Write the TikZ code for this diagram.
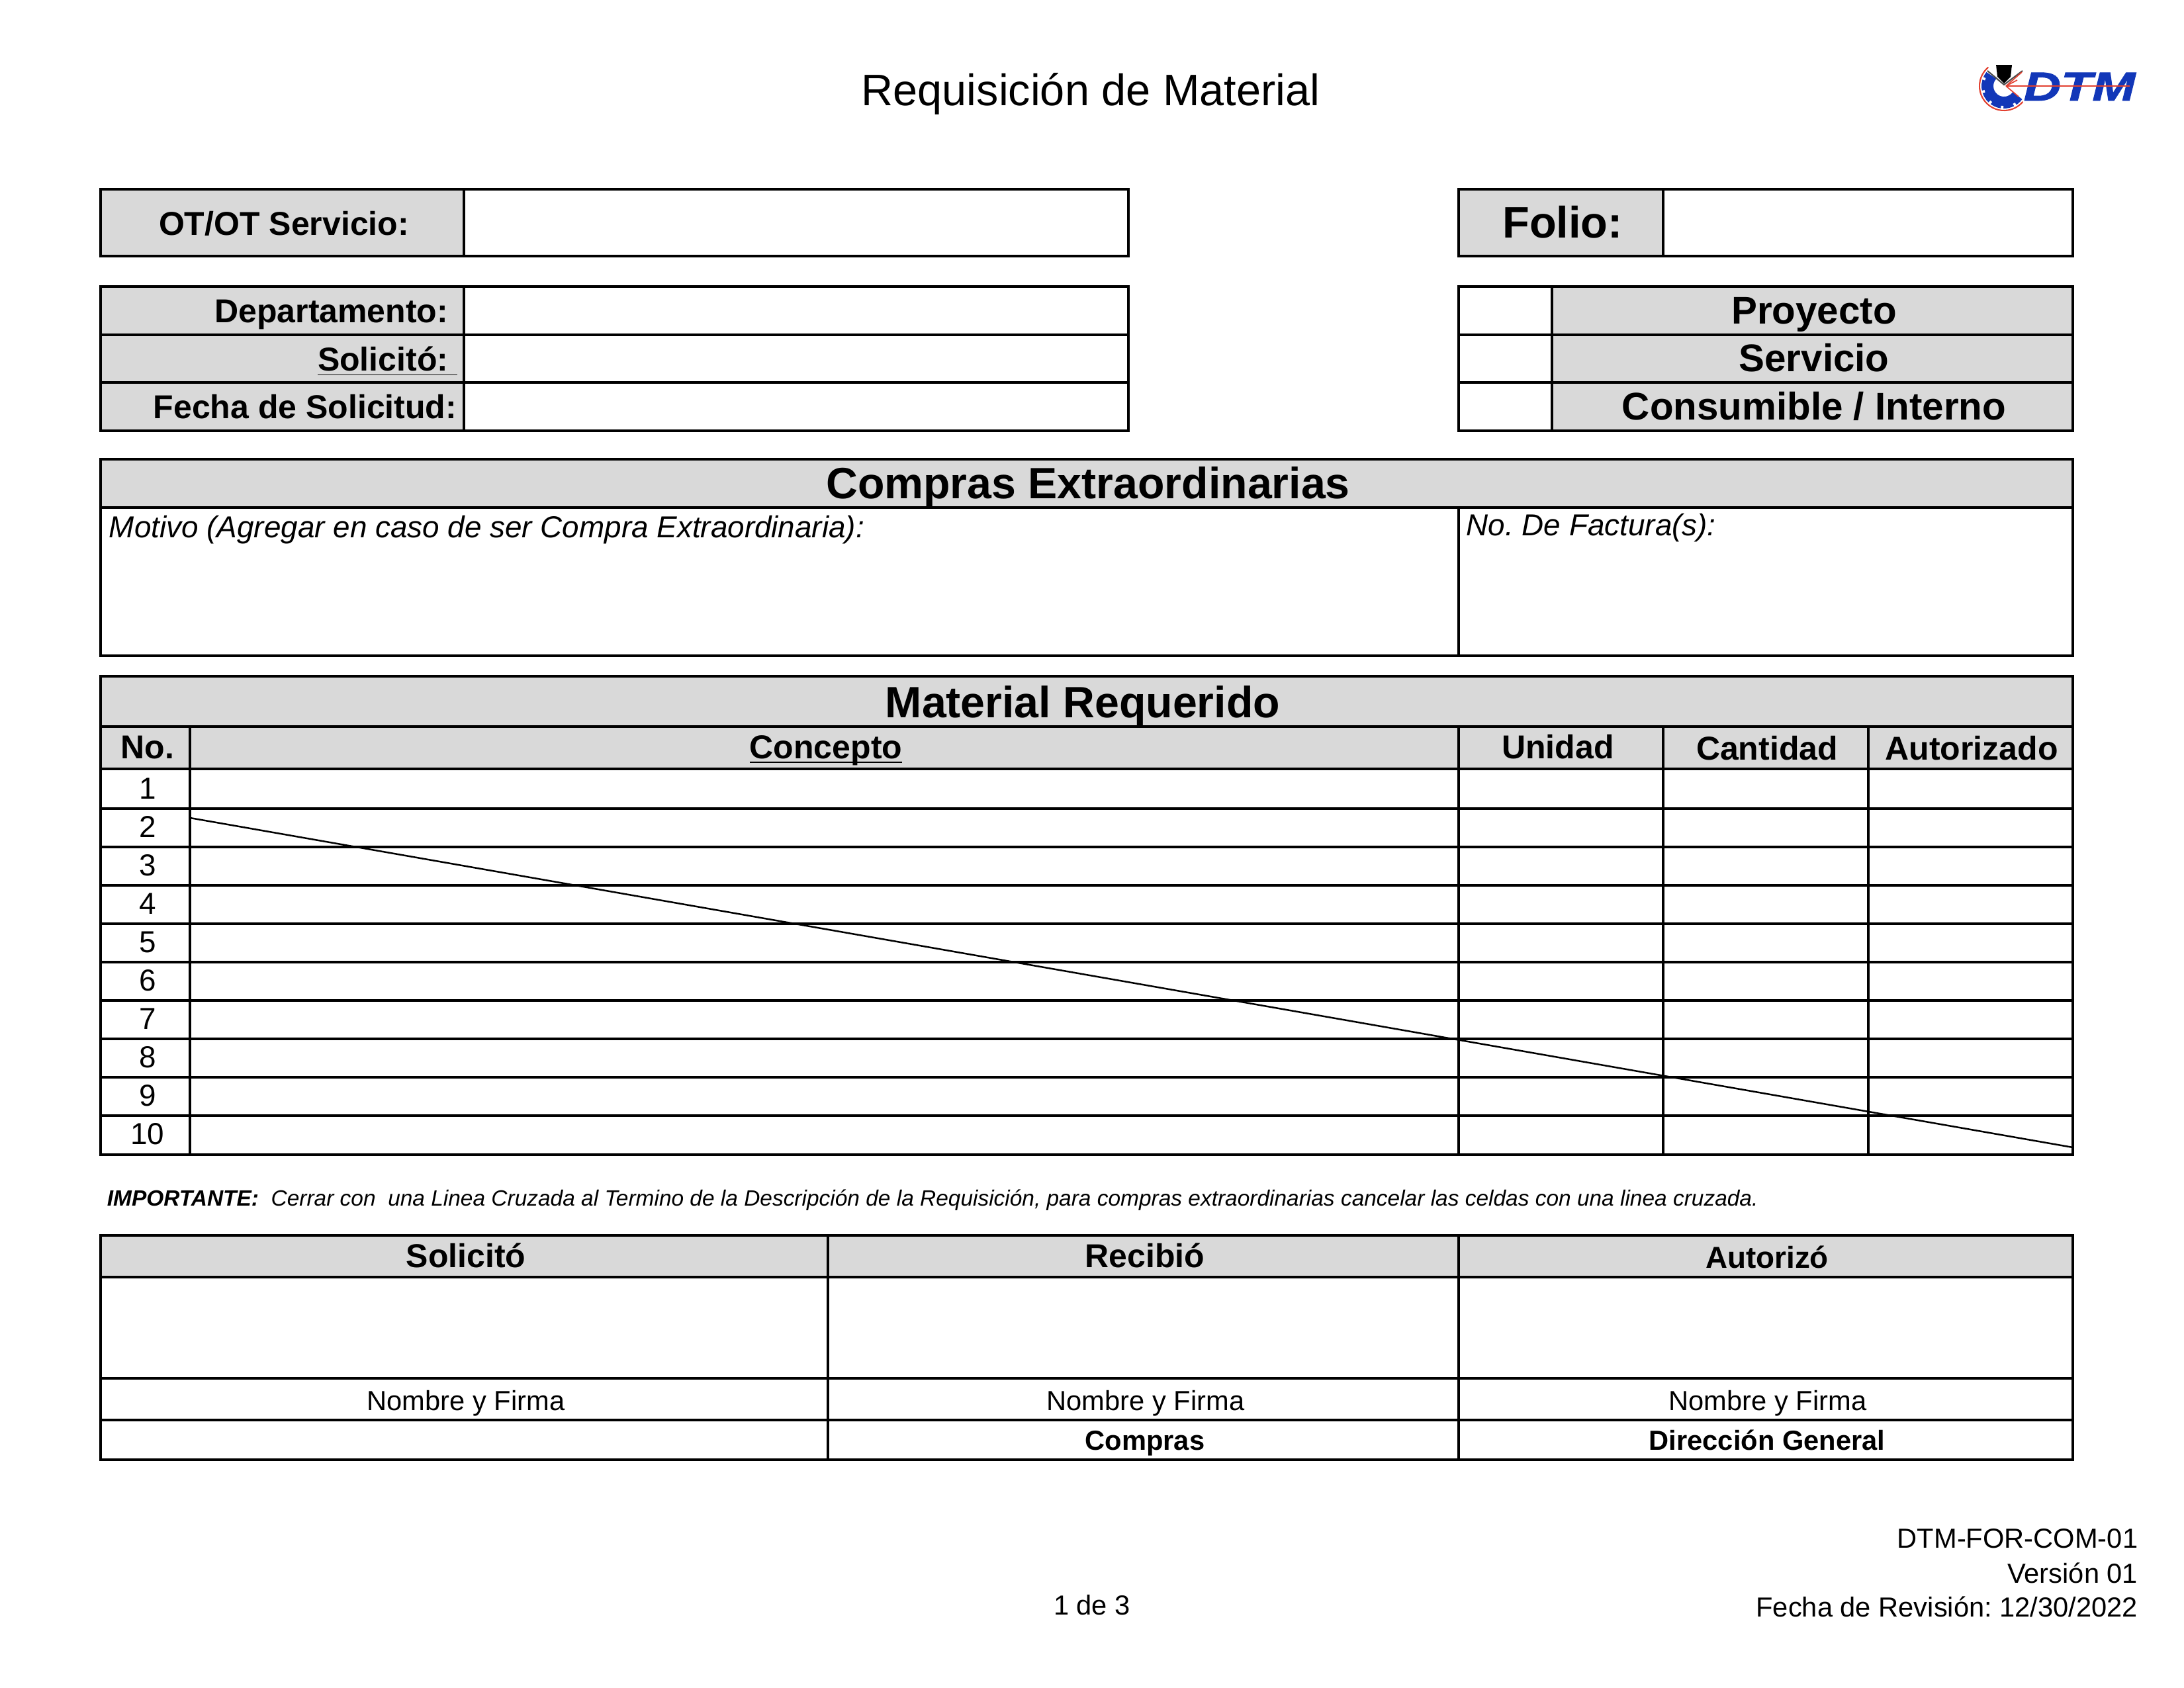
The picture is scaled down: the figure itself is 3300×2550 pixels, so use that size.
\documentclass[tikz,border=0pt]{standalone}
\usepackage{fontspec}
\setmainfont{Liberation Sans}
\usetikzlibrary{positioning,calc}
\definecolor{cellgray}{HTML}{D9D9D9}
\definecolor{dtmblue}{HTML}{1237B8}
\definecolor{dtmred}{HTML}{E2402F}

\begin{document}
\frenchspacing
\begin{tikzpicture}[
    x=0.24pt, y=-0.24pt,
    shade/.style={fill=cellgray},
    frame/.style={draw=black, line width=0.88pt},
    hrule/.style={draw=black, line width=0.94pt},
    vrule/.style={draw=black, line width=0.8pt},
    crossline/.style={draw=black, line width=0.6pt},
    lbl/.style={anchor=base, inner sep=0pt, font=\fontsize{12}{14}\selectfont\bfseries},
    lblr/.style={lbl, anchor=base east},
    bighead/.style={lbl, font=\fontsize{15.9}{18}\selectfont\bfseries},
    typehead/.style={lbl, font=\fontsize{14}{16}\selectfont\bfseries},
    colhead/.style={lbl, font=\fontsize{12}{14}\selectfont\bfseries},
    plain/.style={anchor=base, inner sep=0pt, font=\fontsize{10}{12}\selectfont},
    note/.style={anchor=base west, inner sep=0pt, font=\fontsize{11}{13}\selectfont\itshape},
    foot/.style={anchor=base east, inner sep=0pt, font=\fontsize{10}{12}\selectfont},
  ]
  \useasboundingbox (0,0) rectangle (3300,2550);

  % gray cells
  \fill[shade] (152,286) rectangle (701,387);
  \fill[shade] (2204,286) rectangle (2513,387);
  \fill[shade] (152,433) rectangle (701,651);
  \fill[shade] (2345,433) rectangle (3132,651);
  \fill[shade] (152,694) rectangle (3132,767);
  \fill[shade] (152,1022) rectangle (3132,1162);
  \fill[shade] (152,1867) rectangle (3132,1930);

  % upper boxes
  \draw[frame] (152,286) rectangle (1705,387);
  \draw[vrule] (701,286) -- (701,387);
  \draw[frame] (2204,286) rectangle (3132,387);
  \draw[vrule] (2513,286) -- (2513,387);

  \draw[frame] (152,433) rectangle (1705,651);
  \draw[vrule] (701,433) -- (701,651);
  \draw[frame] (2204,433) rectangle (3132,651);
  \draw[vrule] (2345,433) -- (2345,651);
  \foreach \y in {506,578} {
    \draw[hrule] (152,\y) -- (1705,\y);
    \draw[hrule] (2204,\y) -- (3132,\y);
  }

  % compras extraordinarias
  \draw[frame] (152,694) rectangle (3132,991);
  \draw[hrule] (152,767) -- (3132,767);
  \draw[vrule] (2204,767) -- (2204,991);

  % material requerido
  \draw[frame] (152,1022) rectangle (3132,1745);
  \foreach \y in {1098,1162,1222,1280,1338,1396,1454,1512,1570,1628,1686}
    \draw[hrule] (152,\y) -- (3132,\y);
  \foreach \x in {287,2204,2513,2823}
    \draw[vrule] (\x,1098) -- (\x,1745);

  % firmas
  \draw[frame] (152,1867) rectangle (3132,2206);
  \foreach \y in {1930,2083,2146}
    \draw[hrule] (152,\y) -- (3132,\y);
  \foreach \x in {1251,2204}
    \draw[vrule] (\x,1867) -- (\x,2206);

  \coordinate (crossa) at (287,1236);
  \coordinate (crossb) at (3132,1734);
  \draw[crossline] (crossa) -- (crossb);

  \node[anchor=base, inner sep=0pt, font=\fontsize{16}{18}\selectfont] (title) at (1648,159) {Requisición de Material};

  \node[lbl] (otlbl) at (429,355) {OT/OT Servicio:};
  \node[bighead, font=\fontsize{16}{18}\selectfont\bfseries] (foliolbl) at (2361,359) {Folio:};
  \node[lblr] (deptlbl) at (678,487) {Departamento:};
  \node[lblr] (sollbl) at (692,560) {\underline{Solicitó:\ }};
  \node[lblr] (fechalbl) at (691,632) {Fecha de Solicitud:};
  \node[typehead] (proy) at (2741,489) {Proyecto};
  \node[typehead] (serv) at (2741,561) {Servicio};
  \node[typehead] (cons) at (2741,634) {Consumible / Interno};

  \node[bighead] (comprashead) at (1644,753) {Compras Extraordinarias};
  \node[note] (motivo) at (164,812) {Motivo (Agregar en caso de ser Compra Extraordinaria):};
  \node[note] (factura) at (2215,809) {No. De Factura(s):};

  \node[bighead] (mathead) at (1636,1084) {Material Requerido};
  \node[colhead] (nohead) at (223,1146) {No.};
  \node[colhead] (conhead) at (1248,1146) {\underline{\smash{Concepto}}};
  \node[colhead] (unihead) at (2354,1146) {Unidad};
  \node[colhead] (canhead) at (2670,1148) {Cantidad};
  \node[colhead] (authead) at (2979,1148) {Autorizado};
  \foreach \n [evaluate=\n as \b using int(1207+(\n-1)*58)] in {1,...,10}
    \node[plain] (num\n) at (223,\b) {\fontsize{11}{13}\selectfont\n};

  \node[anchor=base west, inner sep=0pt, font=\fontsize{8.03}{10}\selectfont\itshape] (aviso) at (161,1822)
       {\textbf{IMPORTANTE:}\ \ Cerrar con\ \ una Linea Cruzada al Termino de la Descripción de la Requisición, para compras extraordinarias cancelar las celdas con una linea cruzada.};

  \node[colhead] (firma1) at (704,1915) {Solicitó};
  \node[colhead] (firma2) at (1730,1915) {Recibió};
  \node[lbl, font=\fontsize{11}{13}\selectfont\bfseries] (firma3) at (2670,1916) {Autorizó};
  \node[plain] (nom1) at (704,2131) {Nombre y Firma};
  \node[plain] (nom2) at (1731,2131) {Nombre y Firma};
  \node[plain] (nom3) at (2671,2131) {Nombre y Firma};
  \node[lbl, font=\fontsize{10}{12}\selectfont\bfseries] (area2) at (1730,2191) {Compras};
  \node[lbl, font=\fontsize{10}{12}\selectfont\bfseries] (area3) at (2670,2191) {Dirección General};

  \node[plain] (pagina) at (1650,2440) {1 de 3};
  \node[foot] (codigo) at (3231,2339) {DTM-FOR-COM-01};
  \node[foot] (version) at (3231,2392) {Versión 01};
  \node[foot] (revision) at (3231,2443) {Fecha de Revisión: 12/30/2022};

  % logo
  \node[anchor=base, inner sep=0pt, text=dtmblue, xscale=1.27, transform shape,
        font=\fontsize{14.7}{16}\selectfont\bfseries\itshape\addfontfeature{FakeBold=1.5}] (dtm) at (3142,152) {DTM};
  \begin{scope}[shift={(3028,130)}, yscale=-1]
    \draw[dtmblue, line width=4.3pt] (140:25) arc[start angle=140, end angle=325, radius=25];
    \foreach \a in {160,195,230,265,300}
      \draw[white, line width=0.9pt] (\a:30) -- (\a:36);
    \draw[dtmred, line width=0.5pt] (130:37) arc[start angle=130, end angle=320, radius=37];
    \fill[black] (-12,32) -- (12,32) -- (10,14) -- (0,4) -- (-10,14) -- cycle;
    \draw[black!70, line width=0.5pt] (-25,23) -- (0,2) -- (28,23);
    \draw[dtmred, line width=0.5pt] (3,0) -- (190,0);
    \draw[dtmred, line width=0.4pt] (3,0) -- (27,21);
    \draw[dtmred, line width=0.4pt] (3,0) -- (20,9);
    \draw[dtmred, line width=0.4pt] (3,0) -- (22,-16);
  \end{scope}
\end{tikzpicture}
\end{document}
